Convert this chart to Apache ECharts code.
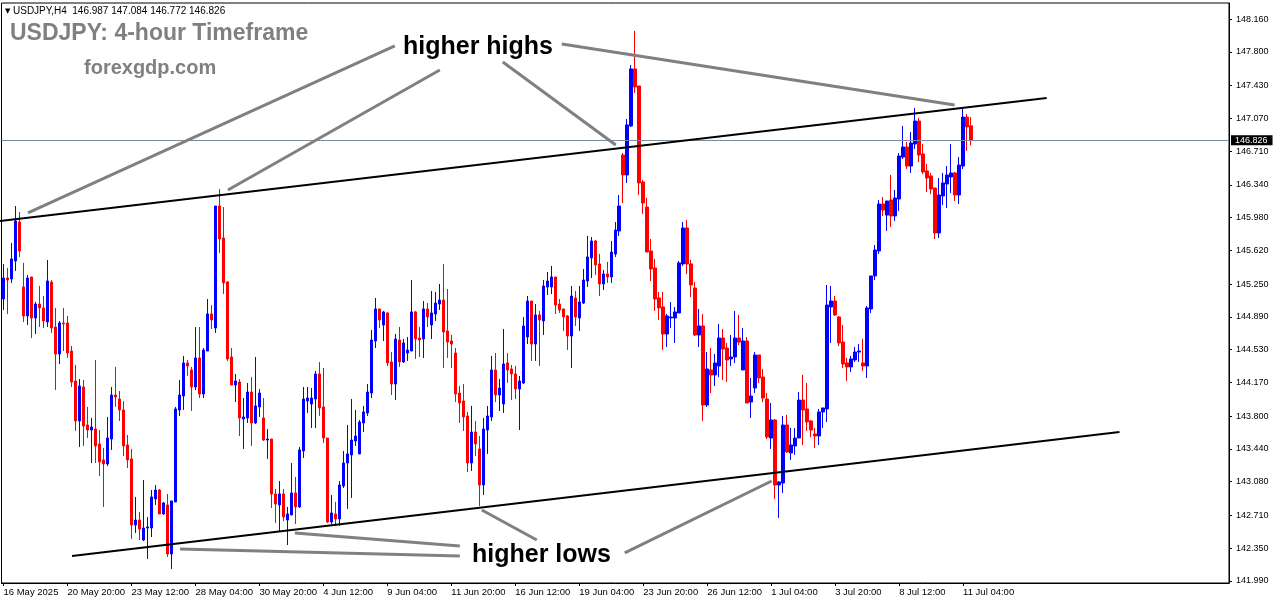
<!DOCTYPE html>
<html>
<head>
<meta charset="utf-8">
<script src="https://cdn.jsdelivr.net/npm/echarts@6/dist/echarts.min.js"></script>
<style>
html,body{margin:0;padding:0;background:#fff;}
#chart{width:1276px;height:604px;}
</style>
</head>
<body>
<div id="chart"></div>
<script>
// ---- data (USDJPY H4) ----
const opens = [145.086,145.317,145.306,145.504,145.932,145.218,144.900,145.328,144.878,145.031,
144.988,144.834,145.273,144.779,144.482,144.823,144.823,144.515,144.186,143.747,
144.120,143.703,143.648,143.659,143.494,143.319,143.275,143.549,144.032,143.988,
143.868,143.483,143.330,142.605,142.660,142.440,142.572,142.572,142.891,142.989,
142.726,142.825,142.287,142.858,143.868,144.021,144.384,144.307,144.120,144.439,
144.043,144.515,144.922,144.768,146.107,145.756,145.273,144.450,144.142,144.175,
143.769,143.780,144.065,143.725,143.901,143.780,143.538,143.549,142.946,142.825,
142.946,142.660,142.715,142.957,142.803,143.418,143.966,143.933,143.988,144.263,
143.901,143.560,142.638,142.726,142.671,143.033,143.286,143.374,143.527,143.385,
143.725,143.835,144.054,144.625,144.977,144.801,144.933,144.395,144.153,144.636,
144.395,144.493,144.515,144.944,144.658,144.647,144.977,144.801,144.922,145.031,
145.075,144.735,144.625,144.493,144.054,143.966,143.802,143.286,143.626,143.440,
143.044,143.648,143.791,144.307,144.032,143.933,144.384,144.318,144.263,144.098,
144.164,144.669,145.064,144.592,144.911,144.845,145.218,145.218,145.328,145.031,
144.977,144.900,144.680,145.097,144.878,145.042,145.284,145.537,145.723,145.471,
145.251,145.361,145.328,145.580,145.833,146.667,146.448,146.986,147.612,147.425,
146.371,146.096,145.613,145.427,145.097,144.999,144.702,144.878,144.878,144.933,
145.471,145.866,145.471,145.207,144.691,144.790,143.922,144.307,144.252,144.351,
144.658,144.548,144.428,144.450,144.658,144.307,144.625,143.955,144.109,144.471,
144.230,143.988,143.560,143.758,143.044,143.066,143.703,143.396,143.473,143.560,
143.977,143.879,143.747,143.604,143.582,143.846,143.879,144.999,145.064,144.889,
144.614,144.384,144.340,144.417,144.504,144.384,144.351,144.977,145.339,145.613,
146.129,146.008,146.173,145.998,146.184,146.645,146.755,146.546,146.788,147.040,
146.678,146.492,146.437,146.305,145.811,146.217,146.349,146.426,146.470,146.228,
146.546,147.084,146.987];
const highs = [145.470,145.427,145.701,146.107,146.041,145.482,145.350,145.328,145.053,145.229,
145.119,145.515,145.295,144.988,144.845,144.988,144.900,144.570,144.362,144.208,
144.197,143.901,143.780,144.417,143.648,143.451,143.791,144.120,144.340,144.076,
143.966,143.593,143.440,142.913,142.748,143.099,142.693,142.989,143.044,143.000,
142.858,142.946,142.869,143.901,144.197,144.461,144.417,144.340,144.779,144.779,
144.548,145.086,145.020,146.107,146.294,146.096,145.284,144.548,144.263,144.208,
143.999,144.164,144.230,144.450,144.098,143.999,143.659,143.549,143.000,143.088,
143.000,142.803,143.286,143.132,143.462,144.120,144.120,144.109,144.296,144.395,
144.329,143.560,142.935,142.858,143.088,143.418,143.703,143.988,143.868,143.758,
143.912,144.153,144.746,145.097,144.977,144.955,144.944,144.504,144.702,144.779,
144.647,144.669,145.295,144.955,144.779,145.064,145.042,145.174,145.163,145.251,
145.471,145.196,144.691,144.548,144.131,144.153,143.846,143.912,143.747,143.582,
143.780,143.912,144.461,144.493,144.208,144.757,144.493,144.362,144.351,144.241,
144.889,145.119,145.064,145.031,144.955,145.295,145.383,145.449,145.328,145.086,
144.977,144.911,145.229,145.174,145.229,145.416,145.778,145.767,145.734,145.580,
145.405,145.493,145.723,145.932,146.228,146.689,147.062,147.655,148.029,147.425,
146.393,146.195,145.745,145.526,145.163,145.163,144.922,145.053,144.999,145.504,
145.932,145.954,145.515,145.273,144.977,144.922,144.504,144.548,144.482,144.812,
144.757,144.603,144.691,144.955,144.911,144.768,144.669,144.219,144.504,144.471,
144.318,144.054,143.944,143.769,143.088,143.802,143.813,143.670,143.670,144.065,
144.252,144.164,143.758,143.670,143.879,143.890,145.240,145.229,145.119,144.900,
144.801,144.439,144.461,144.559,144.592,144.647,145.009,145.339,145.679,146.173,
146.206,146.162,146.448,146.283,146.689,146.986,146.810,146.920,147.183,147.073,
146.788,146.568,146.470,146.305,146.415,146.470,146.546,146.788,146.481,146.645,
147.183,147.117,147.084];
const lows = [144.966,144.922,145.262,145.394,145.548,144.834,144.801,144.658,144.702,144.779,
144.768,144.779,144.713,144.087,144.373,144.515,144.439,144.120,143.637,143.462,
143.473,143.560,143.286,143.286,143.143,142.803,143.253,143.429,143.901,143.747,
143.363,143.231,142.451,142.517,142.440,142.429,142.232,142.473,142.825,142.726,
142.715,142.254,142.122,142.858,143.802,143.868,144.241,143.857,144.087,143.999,
143.999,144.515,144.757,144.713,145.591,145.141,144.406,144.142,143.955,143.582,
143.440,143.725,143.473,143.714,143.791,143.527,143.330,142.792,142.627,142.539,
142.649,142.385,142.715,142.616,142.792,143.341,143.835,143.670,143.670,143.802,
143.505,142.627,142.616,142.594,142.594,143.011,142.781,142.902,143.473,143.385,
143.626,143.802,143.999,144.548,144.768,144.625,144.351,144.032,143.977,144.340,
144.384,144.406,144.515,144.428,144.450,144.439,144.779,144.647,144.845,144.966,
144.329,144.439,144.329,143.955,143.725,143.637,143.187,143.198,143.363,142.814,
142.935,143.385,143.747,143.955,143.857,143.835,144.164,143.977,143.988,143.648,
144.153,144.592,144.406,144.406,144.351,144.691,145.130,145.141,144.922,144.933,
144.735,144.526,144.329,144.790,144.735,145.031,145.218,145.317,145.350,145.119,
145.185,145.262,145.262,145.548,145.778,146.140,146.360,146.975,147.348,146.228,
146.020,145.602,145.284,144.955,144.856,144.526,144.559,144.768,144.603,144.933,
145.449,145.361,145.108,144.680,144.559,143.747,143.901,144.054,144.131,144.230,
144.197,144.175,144.351,144.384,144.581,144.307,143.944,143.780,144.054,144.164,
143.955,143.549,143.440,142.891,142.682,142.957,143.396,143.319,143.374,143.560,
143.483,143.637,143.571,143.451,143.483,143.670,143.736,144.603,144.900,144.570,
144.329,144.186,144.285,144.395,144.395,144.296,144.219,144.933,145.295,145.580,
145.998,145.833,145.877,145.943,146.052,146.623,146.513,146.470,146.733,146.590,
146.459,146.261,146.239,145.745,145.756,146.118,146.085,146.250,146.162,146.129,
146.513,146.711,146.772];
const closes = [145.317,145.295,145.526,145.943,145.613,144.900,145.317,144.878,145.031,144.988,
144.845,145.284,144.768,144.482,144.823,144.812,144.493,144.175,143.747,144.131,
143.692,143.648,143.681,143.473,143.297,143.275,143.560,144.032,144.010,143.868,
143.473,143.319,142.605,142.660,142.561,142.572,142.583,142.913,142.989,142.726,
142.847,142.287,142.869,143.879,144.032,144.384,144.351,144.120,144.439,144.043,
144.526,144.922,144.856,146.107,145.745,145.262,144.428,144.142,144.186,143.780,
143.791,144.065,143.725,143.912,144.054,143.538,143.549,142.946,142.836,142.946,
142.693,142.726,142.957,142.803,143.429,143.988,143.999,143.999,144.263,143.890,
143.560,142.638,142.737,142.671,143.044,143.286,143.385,143.538,143.582,143.736,
143.846,144.065,144.636,144.977,144.856,144.944,144.384,144.153,144.647,144.395,
144.603,144.526,144.944,144.647,144.636,144.977,144.889,144.933,145.042,145.075,
144.724,144.614,144.592,144.043,143.944,143.791,143.286,143.626,143.494,143.044,
143.659,143.802,144.307,144.032,144.109,144.373,144.307,144.263,144.098,144.186,
144.790,145.064,144.592,144.911,144.856,145.229,145.284,145.328,145.020,144.966,
144.889,144.680,145.119,144.889,145.053,145.295,145.548,145.723,145.460,145.251,
145.361,145.328,145.602,145.844,146.107,146.448,146.997,147.612,147.414,146.360,
146.140,145.602,145.416,145.086,144.988,144.702,144.900,144.889,144.944,145.482,
145.866,145.471,145.240,144.691,144.790,143.922,144.318,144.252,144.384,144.658,
144.537,144.417,144.450,144.658,144.614,144.625,143.944,144.021,144.471,144.219,
143.999,143.571,143.758,143.044,143.077,143.703,143.407,143.483,143.560,143.977,
143.868,143.736,143.648,143.582,143.846,143.890,145.020,145.064,144.911,144.603,
144.373,144.340,144.428,144.504,144.515,144.351,144.988,145.339,145.624,146.129,
146.063,146.162,145.998,146.195,146.656,146.755,146.546,146.799,147.040,146.667,
146.481,146.415,146.294,145.811,146.228,146.360,146.448,146.470,146.228,146.557,
147.084,146.975,146.826];

const yTickValues = [148.160,147.800,147.430,147.070,146.710,146.340,145.980,145.620,145.250,
  144.890,144.530,144.170,143.800,143.440,143.080,142.710,142.350,141.990];
const currentPrice = 146.826;
const headerText = 'USDJPY,H4  146.987 147.084 146.772 146.826';

// trend channel lines and note pointers, in [bar index, price]
const upperChannel = [[-0.875, 145.943], [260.9, 147.293]];
const lowerChannel = [[17.125, 142.265], [279.1, 143.626]];
const highNotes = [
  [[97.875, 147.864], [6.125, 146.031]],
  [[109.125, 147.601], [56.125, 146.283]],
  [[124.875, 147.688], [153.125, 146.777]],
  [[139.625, 147.886], [237.875, 147.216]]
];
const lowNotes = [
  [[114.125, 142.265], [44.125, 142.342]],
  [[114.125, 142.375], [72.875, 142.517]],
  [[133.375, 142.440], [119.625, 142.770]],
  [[155.375, 142.298], [192.125, 143.088]]
];

// ---- categories (4-hour bars, weekends skipped) ----
const monthNames = ['Jan','Feb','Mar','Apr','May','Jun','Jul','Aug','Sep','Oct','Nov','Dec'];
const startTime = Date.UTC(2025, 4, 16, 4);
const padBars = 64;
const categories = [];
(function () {
  let t = startTime;
  const step = 4 * 3600 * 1000;
  for (let i = 0; i < opens.length; i++) {
    const d = new Date(t);
    const hh = String(d.getUTCHours()).padStart(2, '0');
    categories.push(i === 0
      ? d.getUTCDate() + ' ' + monthNames[d.getUTCMonth()] + ' ' + d.getUTCFullYear()
      : d.getUTCDate() + ' ' + monthNames[d.getUTCMonth()] + ' ' + hh + ':00');
    t += step;
    while ([0, 6].includes(new Date(t).getUTCDay())) t += step;
  }
  for (let i = 0; i < padBars; i++) categories.push('');
})();

const candleData = opens.map((o, i) => [o, closes[i], lows[i], highs[i]]);
const labelEvery = (i, v) => i % 16 === 0 && v !== '';
const FONT = '"Liberation Sans", Arial, "DejaVu Sans", sans-serif';

function lineSeries(points, color, width) {
  return {
    type: 'line', xAxisIndex: 1, yAxisIndex: 0, data: points,
    showSymbol: false, symbol: 'none', silent: true, z: 5,
    lineStyle: { color: color, width: width }, animation: false
  };
}

const chart = echarts.init(document.getElementById('chart'));
chart.setOption({
  animation: false,
  backgroundColor: '#ffffff',
  grid: { left: 1.5, right: 47, top: 3, bottom: 21, show: true, borderColor: '#000', borderWidth: 1, backgroundColor: '#fff' },
  xAxis: [{
    type: 'category', data: categories, boundaryGap: true,
    axisLine: { show: true, onZero: false, lineStyle: { color: '#000', width: 1 } },
    axisTick: { show: true, alignWithLabel: true, interval: labelEvery, length: 3, lineStyle: { color: '#000' } },
    axisLabel: { interval: labelEvery, align: 'left', color: '#000', fontSize: 9.5, fontFamily: FONT, margin: 4 },
    splitLine: { show: false }
  }, {
    type: 'value', min: -0.5, max: categories.length - 0.5, show: false,
    axisTick: { show: false }, axisLabel: { show: false }, axisLine: { show: false, onZero: false }, splitLine: { show: false }
  }],
  yAxis: [{
    type: 'value', position: 'right', scale: true, min: 141.968, max: 148.336,
    axisLine: { show: true, onZero: false, lineStyle: { color: '#000', width: 1 } },
    axisTick: { show: true, inside: false, customValues: yTickValues, length: 3, lineStyle: { color: '#000' } },
    axisLabel: { customValues: yTickValues, formatter: v => v.toFixed(3), color: '#000', fontSize: 9, fontFamily: FONT, margin: 7 },
    splitLine: { show: false },
    minorTick: { show: false }
  }],
  series: [
    {
      type: 'candlestick', xAxisIndex: 0, yAxisIndex: 0, data: candleData, barWidth: 3,
      itemStyle: { color: '#0000FF', color0: '#FF0000', borderColor: '#0000FF', borderColor0: '#FF0000', borderWidth: 1 },
      markLine: {
        silent: true, symbol: 'none', animation: false,
        data: [{ yAxis: currentPrice }],
        lineStyle: { color: '#7a8a99', width: 1, type: 'solid' },
        label: { show: true, position: 'end', formatter: currentPrice.toFixed(3), distance: 2,
          backgroundColor: '#000', color: '#fff', padding: [1, 5, 0, 4], fontSize: 9, fontFamily: FONT }
      }
    },
    lineSeries(upperChannel, '#000', 2),
    lineSeries(lowerChannel, '#000', 2),
    ...highNotes.map(p => lineSeries(p, '#808080', 3)),
    ...lowNotes.map(p => lineSeries(p, '#808080', 3))
  ],
  graphic: [
    { type: 'text', x: 5, y: 11, style: { text: '\u25BC', font: '7px "DejaVu Sans"', fill: '#000', textVerticalAlign: 'middle' } },
    { type: 'text', x: 13, y: 11, style: { text: headerText, font: '10px ' + FONT, fill: '#000', textVerticalAlign: 'middle' } },
    { type: 'text', x: 10, y: 34, style: { text: 'USDJPY: 4-hour Timeframe', font: 'bold 23px ' + FONT, fill: '#808080', textVerticalAlign: 'middle' } },
    { type: 'text', x: 84, y: 68, style: { text: 'forexgdp.com', font: 'bold 20px ' + FONT, fill: '#808080', textVerticalAlign: 'middle' } },
    { type: 'text', x: 403, y: 47, z: 10, style: { text: 'higher highs', font: 'bold 25px ' + FONT, fill: '#000', textVerticalAlign: 'middle' } },
    { type: 'text', x: 472, y: 555, z: 10, style: { text: 'higher lows', font: 'bold 25px ' + FONT, fill: '#000', textVerticalAlign: 'middle' } }
  ]
});
</script>
</body>
</html>
